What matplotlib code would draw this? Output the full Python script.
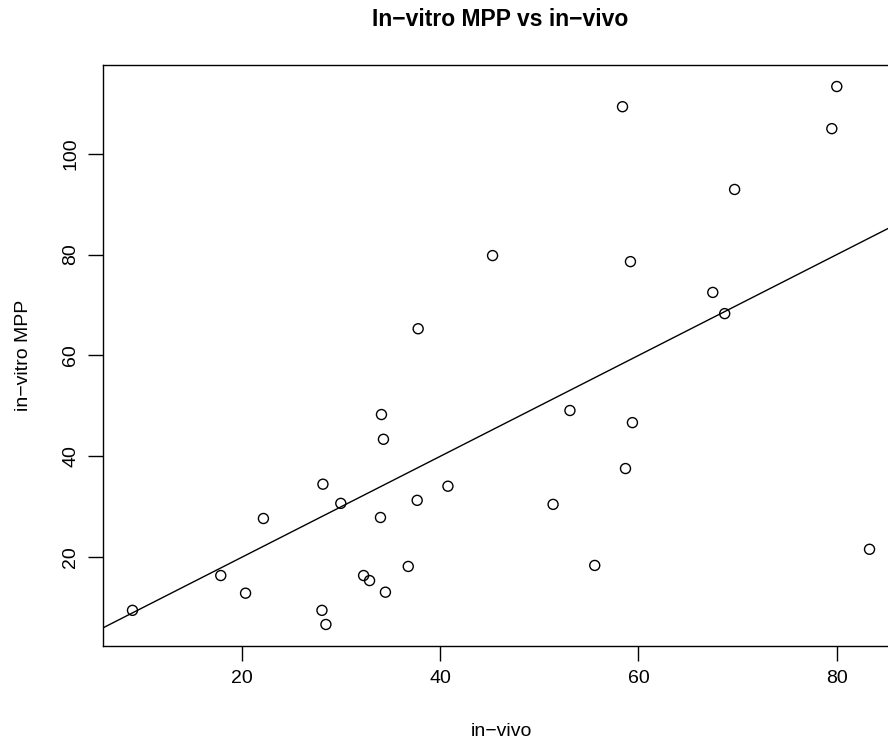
import matplotlib
matplotlib.use('Agg')
import matplotlib.pyplot as plt

plt.rcParams['font.family'] = ['Liberation Sans', 'DejaVu Sans']

# in-vivo vs in-vitro MPP measurements
in_vivo = [9.0, 17.9, 20.4, 22.2, 28.1, 28.5, 28.2, 30.0, 32.3, 32.9,
           34.0, 34.5, 34.1, 34.3, 36.8, 37.7, 37.8, 40.8, 45.3, 51.4,
           53.1, 55.6, 58.4, 58.7, 59.2, 59.4, 67.5, 68.7, 69.7, 79.5,
           80.0, 83.3]
in_vitro = [9.5, 16.4, 12.9, 27.7, 9.5, 6.7, 34.5, 30.7, 16.4, 15.4,
            27.9, 13.1, 48.3, 43.4, 18.2, 31.3, 65.3, 34.1, 79.8, 30.5,
            49.1, 18.4, 109.3, 37.6, 78.6, 46.7, 72.5, 68.3, 92.9, 104.95,
            113.3, 21.6]

xticks = [20, 40, 60, 80]
yticks = [20, 40, 60, 80, 100]


def padded(vals, frac=0.04):
    lo, hi = min(vals), max(vals)
    d = (hi - lo) * frac
    return lo - d, hi + d


fig = plt.figure(figsize=(8.88, 7.4), dpi=100)
# box runs past the right edge of the canvas
ax = fig.add_axes([103 / 888, 94 / 740, 796 / 888, 581 / 740])

ax.scatter(in_vivo, in_vitro, s=52, facecolors='none', edgecolors='black',
           linewidths=1.0, zorder=3)

ax.set_xlim(padded(in_vivo))
ax.set_ylim(padded(in_vitro))

# identity line
ax.axline((0, 0), slope=1, color='black', linewidth=1.0)

ax.set_xticks(xticks)
ax.set_yticks(yticks)
ax.set_yticklabels([str(t) for t in yticks], rotation=90, va='center')
ax.tick_params(axis='both', length=11, width=1, labelsize=14, pad=6,
               direction='out')
for sp in ax.spines.values():
    sp.set_linewidth(1.0)

ax.set_xlabel('in\u2212vivo', fontsize=14, labelpad=26)
ax.set_ylabel('in\u2212vitro MPP', fontsize=14, labelpad=22)
fig.text(500 / 888, 1 - 19 / 740, 'In\u2212vitro MPP vs in\u2212vivo',
         fontsize=16.5, fontweight='bold', ha='center', va='center')

fig.savefig('out.png', dpi=100)
